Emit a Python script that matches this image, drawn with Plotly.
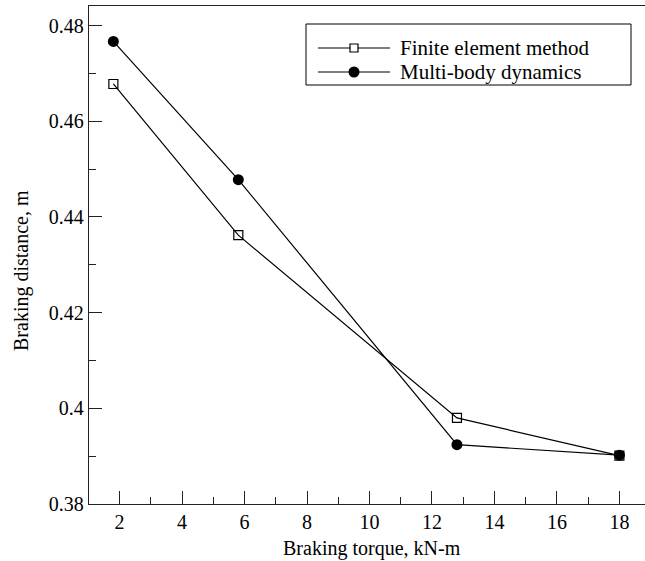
import plotly.graph_objects as go

torque = [1.8, 5.8, 12.8, 18.0]
fem = [0.4678, 0.4362, 0.3980, 0.3901]
mbd = [0.4767, 0.4478, 0.3924, 0.3902]
series_names = ["Finite element method", "Multi-body dynamics"]

x_ticks = [2, 4, 6, 8, 10, 12, 14, 16, 18]
y_ticks = [0.38, 0.40, 0.42, 0.44, 0.46, 0.48]
y_labels = ["0.38", "0.4", "0.42", "0.44", "0.46", "0.48"]

FONT = "Liberation Serif, Times New Roman, serif"
W, H = 645, 561
ML, MR, MT, MB = 89, 0, 6, 57
PW, PH = W - ML - MR, H - MT - MB


def px(p):
    return (p - ML) / PW


def py(p):
    return (H - MB - p) / PH


fig = go.Figure()
fig.add_trace(go.Scatter(
    x=torque, y=fem, mode="lines+markers", name=series_names[0],
    line=dict(color="black", width=1.2),
    marker=dict(symbol="square-open", size=9, color="black", line=dict(width=1.2)),
))
fig.add_trace(go.Scatter(
    x=torque, y=mbd, mode="lines+markers", name=series_names[1],
    line=dict(color="black", width=1.2),
    marker=dict(symbol="circle", size=11, color="black"),
))

axis_common = dict(
    showgrid=False, zeroline=False, showline=True, linecolor="#222", linewidth=1.4,
    ticks="inside", ticklen=13, tickwidth=1.3, tickcolor="#222",
    tickfont=dict(family=FONT, size=20, color="black"),
)

# custom legend (long line samples like the original)
box = dict(l=306, r=631, t=24, b=85)
rows = [48, 72]
shapes = [dict(type="rect", xref="paper", yref="paper",
               x0=px(box["l"]), x1=px(box["r"]), y0=py(box["b"]), y1=py(box["t"]),
               line=dict(color="black", width=1), fillcolor="white", layer="above")]
annotations = []
for i, r in enumerate(rows):
    shapes.append(dict(type="line", xref="paper", yref="paper",
                       x0=px(318), x1=px(390), y0=py(r), y1=py(r),
                       line=dict(color="black", width=1.2), layer="above"))
    common = dict(xref="paper", yref="paper", xsizemode="pixel", ysizemode="pixel",
                  xanchor=px(354), yanchor=py(r), layer="above")
    if i == 0:
        shapes.append(dict(type="rect", x0=-4, x1=4, y0=-4, y1=4,
                           line=dict(color="black", width=1.2), fillcolor="white", **common))
    else:
        shapes.append(dict(type="circle", x0=-5.5, x1=5.5, y0=-5.5, y1=5.5,
                           line=dict(color="black", width=0), fillcolor="black", **common))
    annotations.append(dict(text=series_names[i], xref="paper", yref="paper",
                            x=px(398), y=py(r), xanchor="left", yanchor="middle",
                            showarrow=False,
                            font=dict(family=FONT, size=21, color="black")))

annotations += [
    dict(text="Braking torque, kN-m", xref="paper", yref="paper", x=px(372), y=py(535),
         xanchor="center", yanchor="top", showarrow=False,
         font=dict(family=FONT, size=20, color="black")),
    dict(text="Braking distance, m", xref="paper", yref="paper", x=px(21), y=py(271),
         xanchor="center", yanchor="middle", textangle=-90, showarrow=False,
         font=dict(family=FONT, size=20, color="black")),
]

fig.update_layout(
    width=W, height=H,
    margin=dict(l=ML, r=MR, t=MT, b=MB),
    paper_bgcolor="white", plot_bgcolor="white",
    font=dict(family=FONT, color="black"),
    showlegend=False,
    xaxis=dict(
        range=[1.02, 18.82], tickvals=x_ticks, mirror=True,
        minor=dict(ticks="inside", ticklen=7, tickwidth=1.3, tickcolor="#222", dtick=1, tick0=1),
        **axis_common,
    ),
    yaxis=dict(
        range=[0.38, 0.4841], tickvals=y_ticks, ticktext=y_labels, mirror=False,
        minor=dict(ticks="inside", ticklen=7, tickwidth=1.3, tickcolor="#222", dtick=0.01, tick0=0.38),
        **axis_common,
    ),
    shapes=shapes,
    annotations=annotations,
)

fig.write_html("out.html")
